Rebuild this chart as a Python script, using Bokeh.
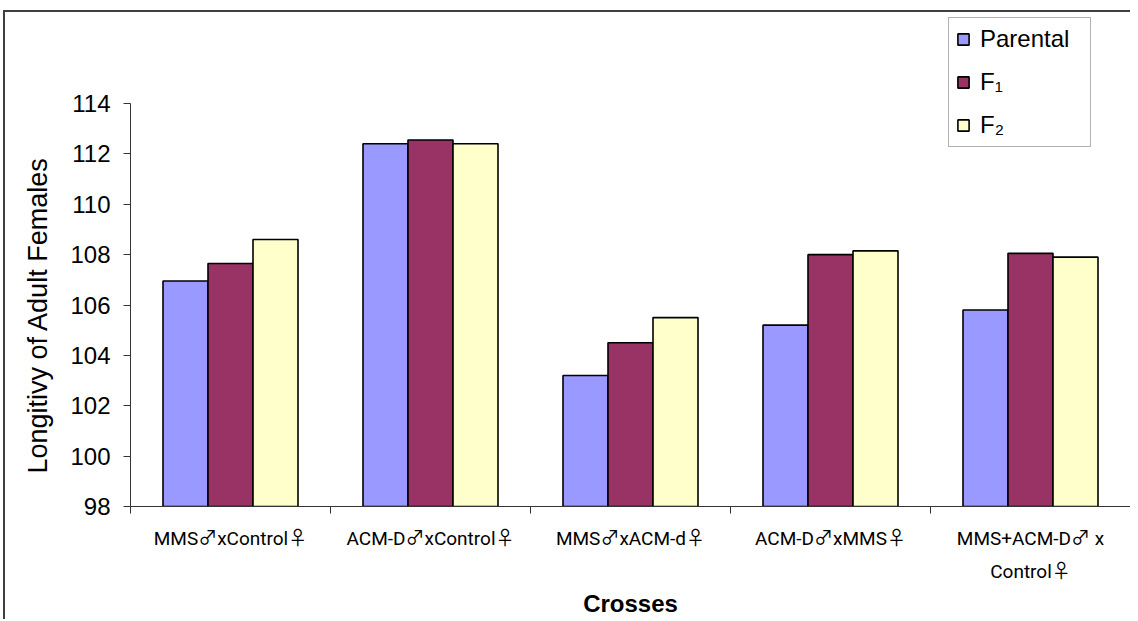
from bokeh.plotting import figure
from bokeh.models import Range1d, FixedTicker, Legend, LegendItem, ColumnDataSource, Title
from bokeh.embed import file_html
from bokeh.resources import INLINE

# ---- data ----
categories = ["MMS♂xControl♀", "ACM-D♂xControl♀", "MMS♂xACM-d♀",
              "ACM-D♂xMMS♀", "MMS+ACM-D♂ x\nControl♀"]
series_names = ["Parental", "F₁", "F₂"]
parental = [106.95, 112.4, 103.2, 105.2, 105.8]
f1 = [107.65, 112.55, 104.5, 108.0, 108.05]
f2 = [108.6, 112.4, 105.5, 108.15, 107.9]
y_ticks = [98, 100, 102, 104, 106, 108, 110, 112, 114]
x_title = "Crosses"
y_title = "Longitivy of Adult Females"

colors = ["#9999FF", "#993366", "#FFFFCC"]
series = [parental, f1, f2]

Y_MIN, Y_MAX = y_ticks[0], y_ticks[-1]
n = len(categories)
centers = [i + 0.5 for i in range(n)]
bar_w = 0.225
offsets = [-bar_w, 0.0, bar_w]

# frame extends above the top tick so the legend (above the axis) is not clipped
AXIS_PX = 403          # pixel height of the 98..114 axis
EXTRA_PX = 88          # free space above the top tick
y_end = Y_MAX + (Y_MAX - Y_MIN) * EXTRA_PX / AXIS_PX

p = figure(width=1127, height=609, output_backend="svg", toolbar_location=None,
           x_range=Range1d(0, n), y_range=Range1d(Y_MIN, y_end),
           min_border_left=123, min_border_right=2, min_border_top=3,
           min_border_bottom=115)
p.outline_line_color = None
p.xgrid.visible = False
p.ygrid.visible = False
p.background_fill_color = "white"
p.border_fill_color = "white"
p.styles = {"border-left": "2px solid #404040", "border-top": "2px solid #404040",
            "margin-top": "10px", "margin-left": "3px"}

TICK_FONT = "Roboto, Noto Sans CJK JP"
FONT = "Liberation Sans"

items = []
for name, vals, col, off in zip(series_names, series, colors, offsets):
    src = ColumnDataSource(dict(x=[c + off for c in centers], top=vals,
                                bottom=[Y_MIN] * n))
    r = p.vbar(x="x", top="top", bottom="bottom", width=bar_w, source=src,
               fill_color=col, line_color="black", line_width=1.6)
    items.append(LegendItem(label=name, renderers=[r]))

# x axis: labels at centres, tick marks at category boundaries
xa = p.xaxis[0]
xa.ticker = FixedTicker(ticks=centers, minor_ticks=list(range(n + 1)))
xa.major_label_overrides = {c: lab for c, lab in zip(centers, categories)}
xa.major_tick_out = 0
xa.major_tick_in = 0
xa.minor_tick_out = 7
xa.minor_tick_in = 0
xa.minor_tick_line_color = "#333333"
xa.axis_line_color = "#333333"
xa.major_label_text_font = TICK_FONT
xa.major_label_text_font_size = "19px"
xa.major_label_text_color = "black"
xa.major_label_text_line_height = 1.45
xa.major_label_standoff = 13
xa.axis_label = x_title
xa.axis_label_text_font = FONT
xa.axis_label_text_font_style = "bold"
xa.axis_label_text_font_size = "24px"
xa.axis_label_text_color = "black"
xa.axis_label_standoff = 4

ya = p.yaxis[0]
ya.ticker = FixedTicker(ticks=y_ticks, minor_ticks=[])
ya.bounds = (Y_MIN, Y_MAX)
ya.major_tick_out = 7
ya.major_tick_in = 0
ya.major_tick_line_color = "#333333"
ya.axis_line_color = "#333333"
ya.major_label_text_font = FONT
ya.major_label_text_font_size = "24px"
ya.major_label_text_color = "black"
ya.major_label_standoff = 13

# y-axis title as a side title so it can be centred on the 98..114 span
ytitle = Title(text=y_title, align="left", offset=33, standoff=30,
               text_font=FONT, text_font_size="27px", text_font_style="normal",
               text_color="black")
p.add_layout(ytitle, "left")

legend = Legend(items=items, location=(818, 359))
legend.border_line_color = "#666666"
legend.border_line_width = 1
legend.background_fill_color = "white"
legend.background_fill_alpha = 1
legend.label_text_font = FONT
legend.label_text_font_size = "24px"
legend.label_text_color = "black"
legend.glyph_width = 14
legend.glyph_height = 14
legend.label_standoff = 10
legend.label_height = 20
legend.label_width = 103
legend.spacing = 15
legend.padding = 7
legend.margin = 0
p.add_layout(legend, "center")

open("out.html", "w").write(file_html(p, INLINE))
